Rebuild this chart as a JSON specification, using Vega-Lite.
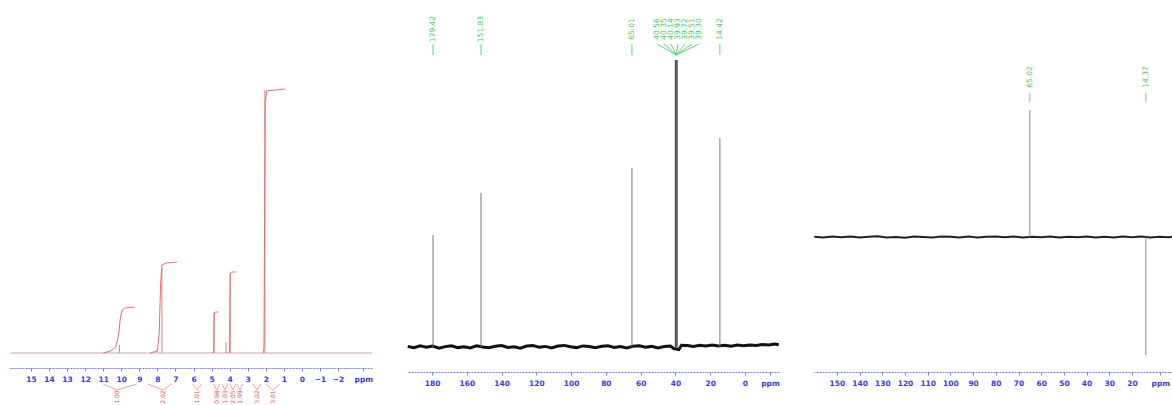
{
  "$schema": "https://vega.github.io/schema/vega-lite/v6.json",
  "padding": {"left": 8, "top": 0, "right": 0, "bottom": 0},
  "spacing": 35,
  "bounds": "flush",
  "background": "white",
  "config": {
    "view": {"stroke": null},
    "axis": {
      "domainColor": "#7a7ae8",
      "domainDash": [2, 1],
      "tickColor": "#7a7ae8",
      "tickSize": 3,
      "labelColor": "#3a3ad0",
      "labelFontSize": 7.5,
      "labelFontWeight": "bold",
      "labelFont": "DejaVu Sans",
      "labelPadding": 4,
      "labelOverlap": false,
      "labelFlush": false,
      "labelBound": false,
      "labelSeparation": 0,
      "grid": false,
      "title": null
    }
  },
  "datasets": {
    "h1_base": [{"ppm": 16.16, "v": 0}, {"ppm": -3.88, "v": 0}],
    "h1_peaks": [
      {"ppm": 10.1, "h": 8},
      {"ppm": 7.75, "h": 85},
      {"ppm": 4.86, "h": 41},
      {"ppm": 4.2, "h": 11},
      {"ppm": 3.97, "h": 80},
      {"ppm": 2.05, "h": 263}
    ],
    "h1_integrals": [
      {"g": 1, "ppm": 11.0, "v": 0}, {"g": 1, "ppm": 10.6, "v": 2}, {"g": 1, "ppm": 10.3, "v": 6}, {"g": 1, "ppm": 10.15, "v": 18}, {"g": 1, "ppm": 10.05, "v": 35}, {"g": 1, "ppm": 9.95, "v": 43}, {"g": 1, "ppm": 9.8, "v": 45}, {"g": 1, "ppm": 9.25, "v": 46},
      {"g": 2, "ppm": 8.4, "v": 0}, {"g": 2, "ppm": 8.0, "v": 2}, {"g": 2, "ppm": 7.9, "v": 20}, {"g": 2, "ppm": 7.82, "v": 70}, {"g": 2, "ppm": 7.75, "v": 88}, {"g": 2, "ppm": 7.5, "v": 90}, {"g": 2, "ppm": 6.92, "v": 91},
      {"g": 3, "ppm": 4.95, "v": 0}, {"g": 3, "ppm": 4.88, "v": 2}, {"g": 3, "ppm": 4.86, "v": 38}, {"g": 3, "ppm": 4.8, "v": 41}, {"g": 3, "ppm": 4.6, "v": 41},
      {"g": 4, "ppm": 4.05, "v": 0}, {"g": 4, "ppm": 4.0, "v": 3}, {"g": 4, "ppm": 3.97, "v": 78}, {"g": 4, "ppm": 3.9, "v": 81}, {"g": 4, "ppm": 3.65, "v": 81},
      {"g": 5, "ppm": 2.15, "v": 0}, {"g": 5, "ppm": 2.1, "v": 5}, {"g": 5, "ppm": 2.07, "v": 120}, {"g": 5, "ppm": 2.03, "v": 250}, {"g": 5, "ppm": 1.95, "v": 262}, {"g": 5, "ppm": 1.5, "v": 263}, {"g": 5, "ppm": 0.94, "v": 264}
    ],
    "h1_brackets": [
      {"ppm": 11.0, "mid": 10.24}, {"ppm": 9.14, "mid": 10.24},
      {"ppm": 8.53, "mid": 7.7}, {"ppm": 7.2, "mid": 7.7},
      {"ppm": 6.05, "mid": 5.81}, {"ppm": 5.55, "mid": 5.81},
      {"ppm": 4.9, "mid": 4.71}, {"ppm": 4.55, "mid": 4.71},
      {"ppm": 4.42, "mid": 4.26}, {"ppm": 4.1, "mid": 4.26},
      {"ppm": 3.98, "mid": 3.82}, {"ppm": 3.66, "mid": 3.82},
      {"ppm": 3.6, "mid": 3.43}, {"ppm": 3.28, "mid": 3.43},
      {"ppm": 2.72, "mid": 2.49}, {"ppm": 2.27, "mid": 2.49},
      {"ppm": 2.0, "mid": 1.61}, {"ppm": 1.2, "mid": 1.61}
    ],
    "h1_labels": [
      {"ppm": 10.24, "t": "1.00"}, {"ppm": 7.7, "t": "2.02"}, {"ppm": 5.81, "t": "1.01"},
      {"ppm": 4.71, "t": "0.98"}, {"ppm": 4.26, "t": "1.03"}, {"ppm": 3.82, "t": "2.05"},
      {"ppm": 3.43, "t": "1.99"}, {"ppm": 2.49, "t": "3.02"}, {"ppm": 1.61, "t": "3.01"}
    ],
    "c13_noise": [
      {"ppm": 194, "v": 0.5}, {"ppm": 190.4, "v": -0.8}, {"ppm": 186.8, "v": 1.1}, {"ppm": 183.2, "v": -0.3}, {"ppm": 179.6, "v": 0.9},
      {"ppm": 176, "v": -1.2}, {"ppm": 172.4, "v": 0.4}, {"ppm": 168.8, "v": 1.3}, {"ppm": 165.2, "v": -0.6}, {"ppm": 161.6, "v": 0.2},
      {"ppm": 158, "v": -1.0}, {"ppm": 154.4, "v": 1.2}, {"ppm": 150.8, "v": 0.1}, {"ppm": 147.2, "v": -0.7}, {"ppm": 143.6, "v": 0.8},
      {"ppm": 140, "v": 1.4}, {"ppm": 136.4, "v": -0.5}, {"ppm": 132.8, "v": 0.3}, {"ppm": 129.2, "v": -1.1}, {"ppm": 125.6, "v": 0.9},
      {"ppm": 122, "v": 1.5}, {"ppm": 118.4, "v": -0.2}, {"ppm": 114.8, "v": 0.6}, {"ppm": 111.2, "v": -0.9}, {"ppm": 107.6, "v": 1.0},
      {"ppm": 104, "v": 1.6}, {"ppm": 100.4, "v": 0.2}, {"ppm": 96.8, "v": -0.6}, {"ppm": 93.2, "v": 1.1}, {"ppm": 89.6, "v": 0.4},
      {"ppm": 86, "v": -0.8}, {"ppm": 82.4, "v": 0.7}, {"ppm": 78.8, "v": 1.3}, {"ppm": 75.2, "v": -0.4}, {"ppm": 71.6, "v": 0.5},
      {"ppm": 68, "v": -1.0}, {"ppm": 64.4, "v": 0.8}, {"ppm": 60.8, "v": 1.2}, {"ppm": 57.2, "v": -0.3}, {"ppm": 53.6, "v": 0.6},
      {"ppm": 50, "v": -0.9}, {"ppm": 46.4, "v": 0.4}, {"ppm": 42.8, "v": 1.0}, {"ppm": 41, "v": -1.5}, {"ppm": 38, "v": -2.5},
      {"ppm": 36.5, "v": 1.8}, {"ppm": 33.2, "v": 1.4}, {"ppm": 29.6, "v": 0.5}, {"ppm": 26, "v": 1.7}, {"ppm": 22.4, "v": 0.9},
      {"ppm": 18.8, "v": 2.0}, {"ppm": 15.2, "v": 1.1}, {"ppm": 11.6, "v": 1.8}, {"ppm": 8, "v": 0.7}, {"ppm": 4.4, "v": 1.9},
      {"ppm": 0.8, "v": 1.2}, {"ppm": -2.8, "v": 2.1}, {"ppm": -6.4, "v": 1.5}, {"ppm": -10, "v": 2.4}, {"ppm": -13.6, "v": 2.0},
      {"ppm": -17.2, "v": 3.0}, {"ppm": -19.5, "v": 2.2}
    ],
    "c13_peaks": [
      {"ppm": 179.4, "h": 112, "kind": "sample"},
      {"ppm": 151.8, "h": 154, "kind": "sample"},
      {"ppm": 65.0, "h": 179, "kind": "sample"},
      {"ppm": 39.5, "h": 287, "kind": "solvent"},
      {"ppm": 14.4, "h": 209, "kind": "sample"}
    ],
    "c13_labels": [
      {"ppm": 179.4, "peak": 179.4, "t": "179.42"},
      {"ppm": 151.8, "peak": 151.8, "t": "151.83"},
      {"ppm": 65.0, "peak": 65.0, "t": "65.01"},
      {"ppm": 50.6, "peak": 39.5, "t": "40.56"},
      {"ppm": 46.6, "peak": 39.5, "t": "40.35"},
      {"ppm": 42.6, "peak": 39.5, "t": "40.14"},
      {"ppm": 38.5, "peak": 39.5, "t": "39.93"},
      {"ppm": 34.5, "peak": 39.5, "t": "39.72"},
      {"ppm": 30.5, "peak": 39.5, "t": "39.51"},
      {"ppm": 26.5, "peak": 39.5, "t": "39.30"},
      {"ppm": 14.4, "peak": 14.4, "t": "14.42"}
    ],
    "dept_noise": [
      {"ppm": 160, "v": 0.3}, {"ppm": 156, "v": -0.5}, {"ppm": 152, "v": 0.6}, {"ppm": 148, "v": -0.2}, {"ppm": 144, "v": 0.4},
      {"ppm": 140, "v": -0.6}, {"ppm": 136, "v": 0.2}, {"ppm": 132, "v": 0.7}, {"ppm": 128, "v": -0.4}, {"ppm": 124, "v": 0.1},
      {"ppm": 120, "v": -0.7}, {"ppm": 116, "v": 0.5}, {"ppm": 112, "v": 0.0}, {"ppm": 108, "v": -0.5}, {"ppm": 104, "v": 0.6},
      {"ppm": 100, "v": 0.3}, {"ppm": 96, "v": -0.4}, {"ppm": 92, "v": 0.5}, {"ppm": 88, "v": -0.6}, {"ppm": 84, "v": 0.2},
      {"ppm": 80, "v": 0.6}, {"ppm": 76, "v": -0.3}, {"ppm": 72, "v": 0.4}, {"ppm": 68, "v": -0.5}, {"ppm": 64, "v": 0.3},
      {"ppm": 60, "v": -0.2}, {"ppm": 56, "v": 0.6}, {"ppm": 52, "v": -0.6}, {"ppm": 48, "v": 0.2}, {"ppm": 44, "v": -0.3},
      {"ppm": 40, "v": 0.5}, {"ppm": 36, "v": -0.4}, {"ppm": 32, "v": 0.3}, {"ppm": 28, "v": -0.6}, {"ppm": 24, "v": 0.4},
      {"ppm": 20, "v": -0.2}, {"ppm": 16, "v": 0.5}, {"ppm": 12, "v": -0.4}, {"ppm": 8, "v": 0.3}, {"ppm": 4, "v": -0.3}, {"ppm": 2.4, "v": 0.2}
    ],
    "dept_peaks": [
      {"ppm": 65.0, "h": 127},
      {"ppm": 13.9, "h": -118}
    ],
    "dept_labels": [
      {"ppm": 65.0, "peak": 65.0, "t": "65.02"},
      {"ppm": 13.9, "peak": 13.9, "t": "14.37"}
    ]
  },
  "hconcat": [
    {
      "width": 362,
      "height": 368,
      "encoding": {
        "x": {"field": "ppm", "type": "quantitative", "scale": {"domain": [-3.88, 16.16], "reverse": true, "nice": false, "zero": false},
          "axis": {"values": [15, 14, 13, 12, 11, 10, 9, 8, 7, 6, 5, 4, 3, 2, 1, 0, -1, -2, -3.4], "format": "d", "labelOverlap": false, "labelExpr": "datum.value < -3 ? 'ppm' : datum.label"}}
      },
      "layer": [
        {
          "data": {"name": "h1_base"},
          "mark": {"type": "line", "color": "#c9a8a8", "strokeWidth": 1},
          "encoding": {
            "y": {"field": "v", "type": "quantitative", "scale": {"domain": [-15, 353], "nice": false}, "axis": null}
          }
        },
        {
          "data": {"name": "h1_peaks"},
          "mark": {"type": "rule", "color": "#e08080", "strokeWidth": 1},
          "encoding": {
            "y": {"field": "h", "type": "quantitative", "scale": {"domain": [-15, 353], "nice": false}},
            "y2": {"datum": 0}
          }
        },
        {
          "data": {"name": "h1_integrals"},
          "mark": {"type": "line", "color": "#e07070", "strokeWidth": 1},
          "encoding": {
            "y": {"field": "v", "type": "quantitative", "scale": {"domain": [-15, 353], "nice": false}},
            "detail": {"field": "g"}
          }
        },
        {
          "data": {"name": "h1_brackets"},
          "mark": {"type": "rule", "color": "#f0a0a0", "strokeWidth": 1},
          "encoding": {
            "x2": {"field": "mid"},
            "y": {"datum": -31, "type": "quantitative", "scale": {"domain": [-15, 353], "nice": false}},
            "y2": {"datum": -37}
          }
        },
        {
          "data": {"name": "h1_labels"},
          "mark": {"type": "text", "color": "#e05050", "fontSize": 6, "angle": 270, "font": "DejaVu Sans"},
          "encoding": {
            "y": {"datum": -44, "type": "quantitative", "scale": {"domain": [-15, 353], "nice": false}},
            "text": {"field": "t"}
          }
        }
      ]
    },
    {
      "width": 372,
      "height": 372,
      "encoding": {
        "x": {"field": "ppm", "type": "quantitative", "scale": {"domain": [-19.6, 194.4], "reverse": true, "nice": false, "zero": false},
          "axis": {"values": [180, 160, 140, 120, 100, 80, 60, 40, 20, 0, -14.4], "format": "d", "labelOverlap": false, "labelExpr": "datum.value < -10 ? 'ppm' : datum.label"}}
      },
      "layer": [
        {
          "data": {"name": "c13_noise"},
          "mark": {"type": "line", "color": "#111111", "strokeWidth": 3},
          "encoding": {
            "y": {"field": "v", "type": "quantitative", "scale": {"domain": [-25, 347], "nice": false}, "axis": null}
          }
        },
        {
          "data": {"name": "c13_peaks"},
          "transform": [{"filter": "datum.kind == 'sample'"}],
          "mark": {"type": "rule", "color": "#777777", "strokeWidth": 1},
          "encoding": {
            "y": {"field": "h", "type": "quantitative", "scale": {"domain": [-25, 347], "nice": false}},
            "y2": {"datum": 0}
          }
        },
        {
          "data": {"name": "c13_peaks"},
          "transform": [{"filter": "datum.kind == 'solvent'"}],
          "mark": {"type": "rule", "color": "#555555", "strokeWidth": 3},
          "encoding": {
            "y": {"field": "h", "type": "quantitative", "scale": {"domain": [-25, 347], "nice": false}},
            "y2": {"datum": 0}
          }
        },
        {
          "data": {"name": "c13_labels"},
          "mark": {"type": "rule", "color": "#5ad878", "strokeWidth": 1},
          "encoding": {
            "x2": {"field": "peak"},
            "y": {"datum": 303, "type": "quantitative", "scale": {"domain": [-25, 347], "nice": false}},
            "y2": {"datum": 292}
          }
        },
        {
          "data": {"name": "c13_labels"},
          "mark": {"type": "text", "color": "#40cc60", "fontSize": 7.5, "angle": 270, "font": "DejaVu Sans"},
          "encoding": {
            "y": {"datum": 318, "type": "quantitative", "scale": {"domain": [-25, 347], "nice": false}},
            "text": {"field": "t"}
          }
        }
      ]
    },
    {
      "width": 358,
      "height": 372,
      "encoding": {
        "x": {"field": "ppm", "type": "quantitative", "scale": {"domain": [2.37, 160.1], "reverse": true, "nice": false, "zero": false},
          "axis": {"values": [150, 140, 130, 120, 110, 100, 90, 80, 70, 60, 50, 40, 30, 20, 7.5], "format": "d", "labelOverlap": false, "labelExpr": "datum.value < 10 ? 'ppm' : datum.label"}}
      },
      "layer": [
        {
          "data": {"name": "dept_noise"},
          "mark": {"type": "line", "color": "#222222", "strokeWidth": 2},
          "encoding": {
            "y": {"field": "v", "type": "quantitative", "scale": {"domain": [-135, 237], "nice": false}, "axis": null}
          }
        },
        {
          "data": {"name": "dept_peaks"},
          "mark": {"type": "rule", "color": "#888888", "strokeWidth": 1},
          "encoding": {
            "y": {"field": "h", "type": "quantitative", "scale": {"domain": [-135, 237], "nice": false}},
            "y2": {"datum": 0}
          }
        },
        {
          "data": {"name": "dept_labels"},
          "mark": {"type": "rule", "color": "#5ad878", "strokeWidth": 1},
          "encoding": {
            "x2": {"field": "peak"},
            "y": {"datum": 144, "type": "quantitative", "scale": {"domain": [-135, 237], "nice": false}},
            "y2": {"datum": 135}
          }
        },
        {
          "data": {"name": "dept_labels"},
          "mark": {"type": "text", "color": "#40cc60", "fontSize": 7.5, "angle": 270, "font": "DejaVu Sans"},
          "encoding": {
            "y": {"datum": 160, "type": "quantitative", "scale": {"domain": [-135, 237], "nice": false}},
            "text": {"field": "t"}
          }
        }
      ]
    }
  ]
}
